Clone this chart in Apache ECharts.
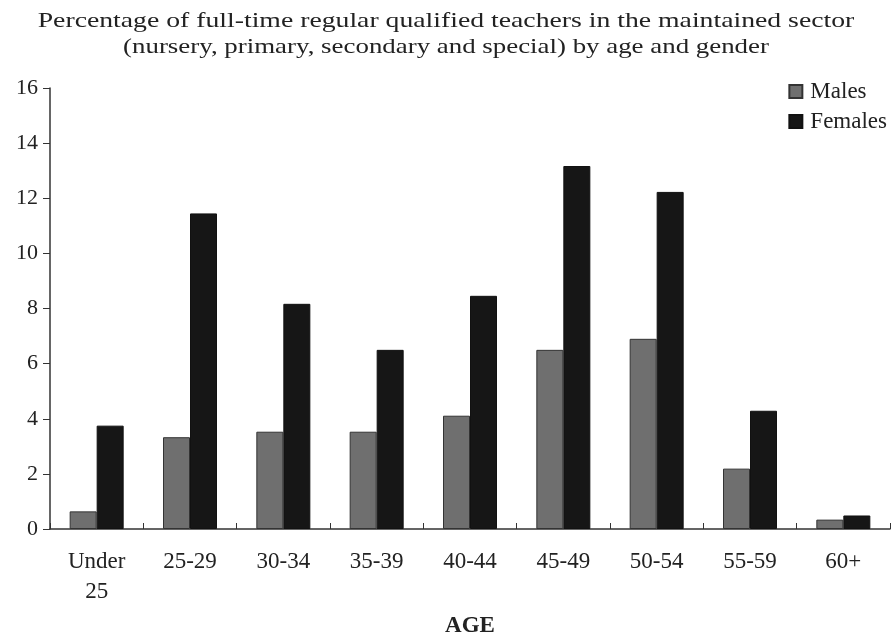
<!DOCTYPE html>
<html><head><meta charset="utf-8">
<script src="https://cdn.jsdelivr.net/npm/echarts@6/dist/echarts.min.js"></script>
<style>html,body{margin:0;padding:0;background:#fff}#c{width:892px;height:640px}</style>
</head><body><div id="c"></div>
<script>
var categories = ['Under\n25','25-29','30-34','35-39','40-44','45-49','50-54','55-59','60+'];
var males = [0.64, 3.33, 3.53, 3.53, 4.11, 6.5, 6.9, 2.19, 0.34];
var females = [3.75, 11.45, 8.17, 6.5, 8.46, 13.17, 12.23, 4.29, 0.49];
var yTicks = [0, 2, 4, 6, 8, 10, 12, 14, 16];
var titleLines = ['Percentage of full-time regular qualified teachers in the maintained sector',
                  '(nursery, primary, secondary and special) by age and gender'];
var F = '"Liberation Serif", "DejaVu Serif", serif';
var chart = echarts.init(document.getElementById('c'));
chart.setOption({
  animation: false,
  backgroundColor: '#fff',
  graphic: [
    {type: 'text', x: 446, y: 21, scaleX: 1.32, scaleY: 1,
     style: {text: titleLines[0], fontFamily: F, fontSize: 21, fill: '#222', align: 'center', verticalAlign: 'middle'}},
    {type: 'text', x: 446, y: 47, scaleX: 1.28, scaleY: 1,
     style: {text: titleLines[1], fontFamily: F, fontSize: 21, fill: '#222', align: 'center', verticalAlign: 'middle'}}
  ],
  legend: {
    data: ['Males','Females'], orient: 'vertical', right: 0, top: 75,
    itemWidth: 13, itemHeight: 13, itemGap: 7, icon: 'rect',
    textStyle: {fontFamily: F, fontSize: 23, color: '#222', padding: [0,0,0,3]}
  },
  grid: {left: 50, right: 2, top: 88, bottom: 111, outerBoundsMode: 'none', containLabel: false},
  xAxis: {
    type: 'category', data: categories,
    name: 'AGE', nameLocation: 'middle', nameGap: 86,
    nameTextStyle: {fontFamily: F, fontWeight: 'bold', fontSize: 23, color: '#222'},
    axisLine: {lineStyle: {color: '#333', width: 1.5}},
    axisTick: {show: true, inside: true, alignWithLabel: false, length: 6, lineStyle: {color: '#333'}},
    axisLabel: {fontFamily: F, fontSize: 23, color: '#222', margin: 18, lineHeight: 30, interval: 0}
  },
  yAxis: {
    type: 'value', min: 0, max: 16, interval: 2,
    axisLine: {show: true, lineStyle: {color: '#333', width: 1.5}},
    axisTick: {show: true, length: 7, lineStyle: {color: '#333'}},
    splitLine: {show: false},
    axisLabel: {fontFamily: F, fontSize: 22, color: '#222', margin: 12,
      formatter: function(v){ return yTicks.indexOf(v) >= 0 ? String(v) : ''; }}
  },
  series: [
    {name: 'Males', type: 'bar', data: males, barWidth: 27, barGap: '0%',
     itemStyle: {color: '#6f6f6f', borderColor: '#333', borderWidth: 1}},
    {name: 'Females', type: 'bar', data: females, barWidth: 27,
     itemStyle: {color: '#161616', borderColor: '#111', borderWidth: 1}}
  ]
});
</script></body></html>
